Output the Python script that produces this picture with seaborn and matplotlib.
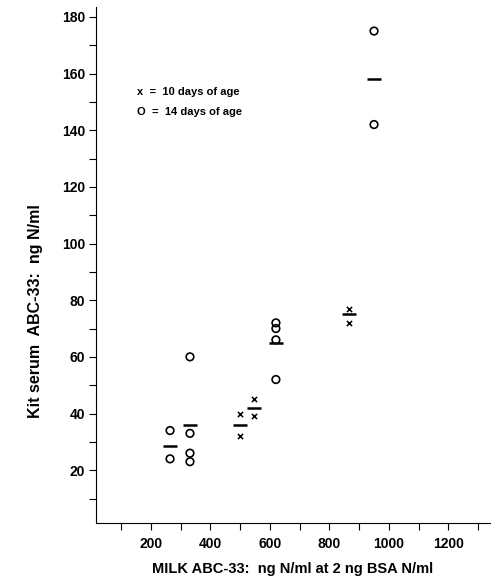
import matplotlib
matplotlib.use("Agg")
import matplotlib.pyplot as plt
import numpy as np
import pandas as pd
import seaborn as sns

# 10 days of age (x markers)
x10_milk = [500, 500, 545, 545, 865, 865]
x10_serum = [40, 32, 45, 39, 77, 72]

# 14 days of age (open circles)
o14_milk = [264, 264, 331, 331, 331, 331, 620, 620, 620, 620, 950, 950]
o14_serum = [34, 24, 60, 33, 26, 23, 72, 70, 66, 52, 175, 142]

# group means (horizontal dashes)
mean_milk = [264, 331, 500, 545, 620, 865, 950]
mean_serum = [28.5, 36, 36, 42, 65, 75, 158]

df10 = pd.DataFrame({"milk": x10_milk, "serum": x10_serum})
df14 = pd.DataFrame({"milk": o14_milk, "serum": o14_serum})
dfm = pd.DataFrame({"milk": mean_milk, "serum": mean_serum})

sns.set_style("ticks")
plt.rcParams["font.family"] = ["Liberation Sans", "DejaVu Sans"]
plt.rcParams["font.weight"] = "bold"
for key in ["text.color", "axes.labelcolor", "xtick.color", "ytick.color",
            "axes.edgecolor"]:
    plt.rcParams[key] = "black"

fig = plt.figure(figsize=(4.91, 5.8), dpi=100)
ax = fig.add_axes([0.1955, 0.098, 0.8025, 0.89])

sns.scatterplot(data=df10, x="milk", y="serum", marker="x", s=14,
                color="black", linewidth=1.1, ax=ax, legend=False)
sns.scatterplot(data=df14, x="milk", y="serum", marker="o", s=30,
                facecolor="none", edgecolor="black", linewidth=1.2,
                ax=ax, legend=False)
sns.scatterplot(data=dfm, x="milk", y="serum", marker="_", s=100,
                color="black", linewidth=1.8, ax=ax, legend=False)

ax.set_xlim(15, 1340)
ax.set_ylim(1.3, 183.5)
ax.set_xticks(np.arange(100, 1301, 100))
ax.set_xticklabels(["" if v % 200 else str(v) for v in range(100, 1301, 100)])
ax.set_yticks(np.arange(10, 181, 10))
ax.set_yticklabels(["" if v % 20 else str(v) for v in range(10, 181, 10)])
ax.tick_params(direction="out", length=5, width=0.8, labelsize=10, pad=3)
ax.tick_params(axis="x", pad=5)
for lab in ax.get_xticklabels() + ax.get_yticklabels():
    lab.set_fontweight("bold")

sns.despine(ax=ax)
for s in ["left", "bottom"]:
    ax.spines[s].set_linewidth(0.8)

ax.set_xlabel("MILK ABC-33:  ng N/ml at 2 ng BSA N/ml", fontsize=10.5,
              fontweight="bold")
ax.set_ylabel("Kit serum  ABC-33:  ng N/ml", fontsize=11.5,
              fontweight="bold")
ax.xaxis.set_label_coords(0.5, -0.075)
ax.yaxis.set_label_coords(-0.135, 0.41)

ax.text(153, 153.5, "x  =  10 days of age", fontsize=8, fontweight="bold",
        va="center")
ax.text(153, 146.5, "O  =  14 days of age", fontsize=8, fontweight="bold",
        va="center")

fig.savefig("out.png", dpi=100, facecolor="white")
